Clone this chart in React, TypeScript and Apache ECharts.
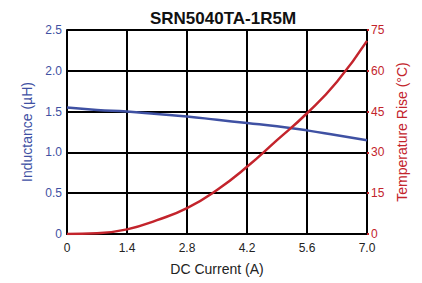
import React, { useEffect, useRef } from "react";
import * as echarts from "echarts";

const currents = [0, 0.7, 1.4, 2.1, 2.8, 3.5, 4.2, 4.9, 5.6, 6.3, 7.0];
const inductance = [1.55, 1.52, 1.5, 1.47, 1.44, 1.4, 1.36, 1.32, 1.27, 1.21, 1.15];
const tempRise = [0, 0.3, 1.7, 5.1, 9.5, 16.2, 24.7, 34.5, 44.4, 56, 71];

const BLUE = "#3f51a3";
const RED = "#c3242c";
const FONT = "'Liberation Sans', Arial, sans-serif";

export default function App() {
  const ref = useRef<HTMLDivElement>(null);
  useEffect(() => {
    if (!ref.current) return;
    const chart = echarts.init(ref.current, null, { renderer: "svg" });
    const fmt = (v: number) => (v === 0 ? "0" : v.toFixed(1));
    chart.setOption({
      animation: false,
      title: {
        text: "SRN5040TA-1R5M",
        left: 218,
        textAlign: "center",
        top: 5,
        textStyle: { fontFamily: FONT, fontWeight: "bold", fontSize: 17, color: "#111" },
      },
      grid: { left: 67, right: 55, top: 30, bottom: 49 },
      xAxis: {
        type: "value",
        min: 0,
        max: 7,
        interval: 1.4,
        name: "DC Current (A)",
        nameLocation: "middle",
        nameGap: 28,
        nameTextStyle: { fontFamily: FONT, fontSize: 14, color: "#222" },
        axisLine: { lineStyle: { color: "#000", width: 2 } },
        axisTick: { show: false },
        axisLabel: { formatter: fmt, fontFamily: FONT, fontSize: 12, color: "#222", margin: 8 },
        splitLine: { show: true, lineStyle: { color: "#000", width: 2 } },
      },
      yAxis: [
        {
          type: "value",
          min: 0,
          max: 2.5,
          interval: 0.5,
          position: "left",
          name: "Inductance (µH)",
          nameLocation: "middle",
          nameGap: 33,
          nameTextStyle: { fontFamily: FONT, fontSize: 14, color: BLUE },
          axisLine: { show: true, lineStyle: { color: "#000", width: 2 } },
          axisTick: { show: false },
          axisLabel: { formatter: fmt, fontFamily: FONT, fontSize: 12, color: BLUE, margin: 5 },
          splitLine: { show: true, lineStyle: { color: "#000", width: 2 } },
        },
        {
          type: "value",
          min: 0,
          max: 75,
          interval: 15,
          position: "right",
          name: "Temperature Rise (°C)",
          nameLocation: "middle",
          nameGap: 26,
          nameTextStyle: { fontFamily: FONT, fontSize: 14, color: RED },
          axisLine: { show: true, lineStyle: { color: "#000", width: 2 } },
          axisTick: { show: true, length: 2, lineStyle: { color: RED, width: 2 } },
          axisLabel: { fontFamily: FONT, fontSize: 12, color: RED, margin: 4 },
          splitLine: { show: false },
        },
      ],
      series: [
        {
          type: "line",
          yAxisIndex: 0,
          data: currents.map((x, i) => [x, inductance[i]]),
          smooth: true,
          showSymbol: false,
          lineStyle: { color: BLUE, width: 2.5 },
        },
        {
          type: "line",
          yAxisIndex: 1,
          data: currents.map((x, i) => [x, tempRise[i]]),
          smooth: true,
          showSymbol: false,
          lineStyle: { color: RED, width: 2.5 },
        },
      ],
    });
    return () => chart.dispose();
  }, []);
  return <div ref={ref} style={{ width: 422, height: 283, position: "absolute", left: 0, top: 0 }} />;
}
